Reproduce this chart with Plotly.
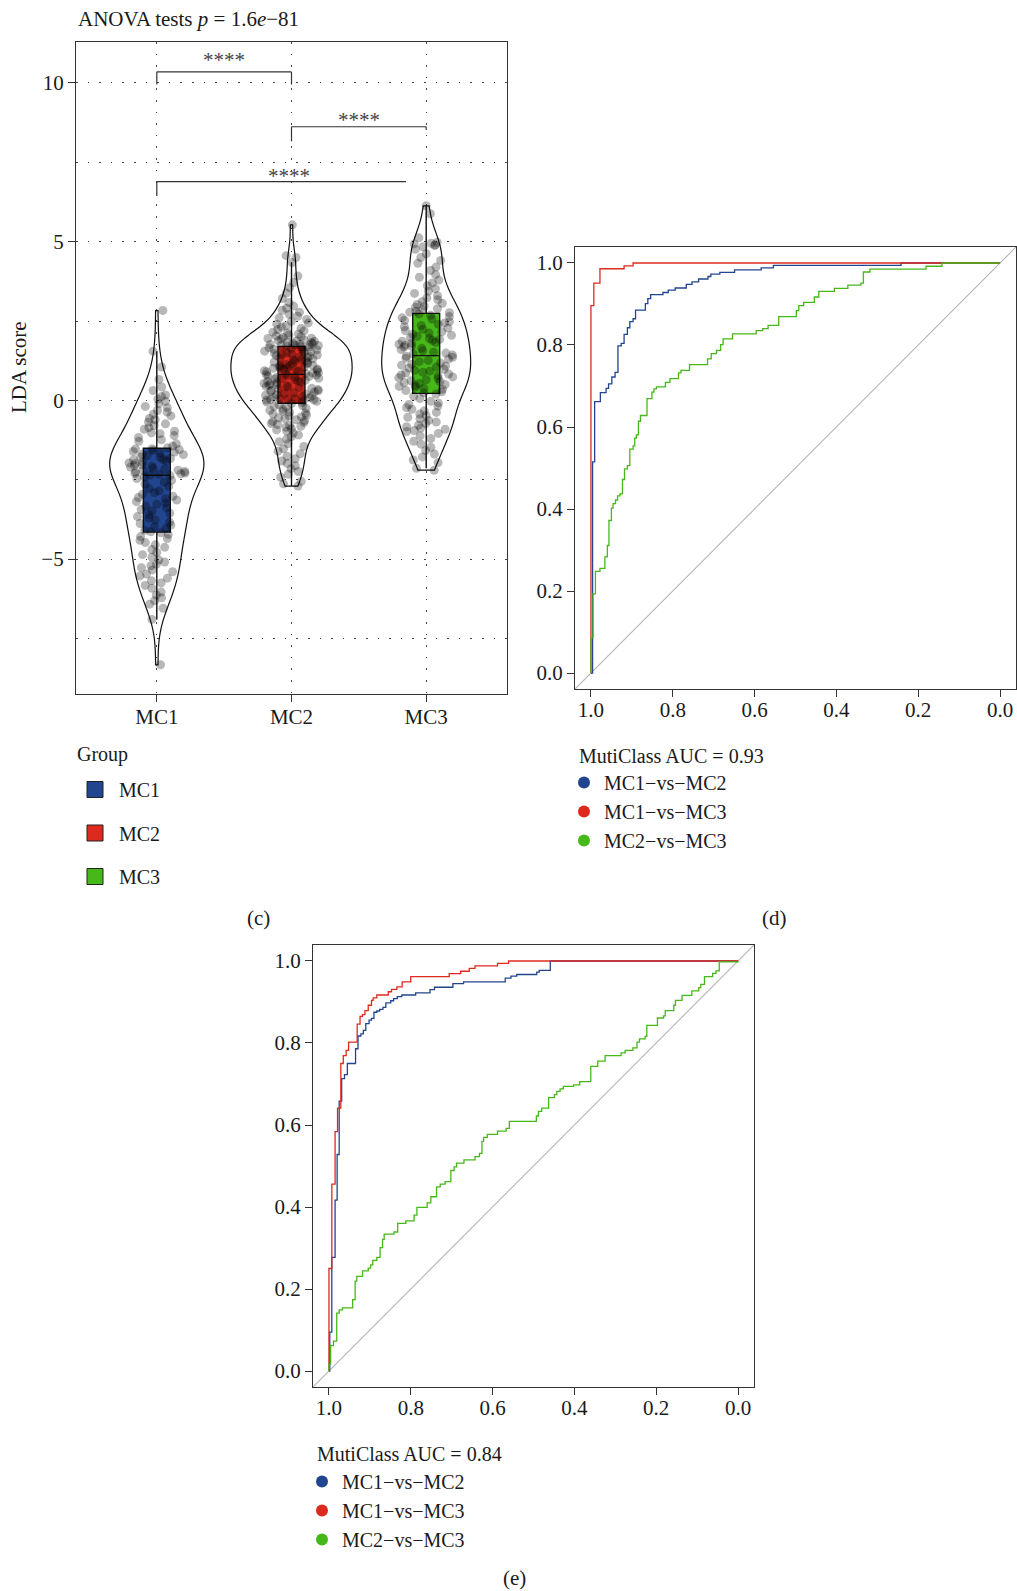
import plotly.graph_objects as go

W, H = 1017, 1591
FONT = "Liberation Serif"
FS = 21
LFS = 20

# ---------------- data: panel (c) ----------------
groups = ["MC1", "MC2", "MC3"]
group_colors = ["#22458F", "#DE2A1E", "#46B819"]

mc1_scores = [
    2.83, 1.55, 1.05, 0.66, 0.42, 0.31, 0.17, 0.12, 0.04,
    -0.03, -0.11, -0.19, -0.23, -0.32, -0.37, -0.44, -0.49, -0.57, -0.61, -0.68, -0.74, -0.79, -0.86, -0.91, -0.97,
    -1.02, -1.05, -1.11, -1.17, -1.24, -1.29, -1.37, -1.44, -1.49,
    -1.52, -1.53, -1.55, -1.58, -1.61, -1.63, -1.66, -1.70, -1.71, -1.74, -1.78, -1.79, -1.83, -1.86, -1.88, -1.91, -1.94, -1.97, -1.99,
    -2.03, -2.05, -2.08, -2.10, -2.14, -2.17, -2.20, -2.21, -2.24, -2.26, -2.29, -2.30, -2.31, -2.33, -2.35,
    -2.37, -2.41, -2.46, -2.52, -2.58, -2.64, -2.71, -2.78, -2.85, -2.91, -2.96,
    -3.02, -3.06, -3.10, -3.14, -3.19, -3.23, -3.27, -3.33, -3.38, -3.44, -3.49, -3.55, -3.60, -3.66, -3.71, -3.77, -3.83, -3.88, -3.93, -3.98,
    -4.04, -4.09, -4.14, -4.17, -4.22, -4.29, -4.35, -4.41, -4.48, -4.55, -4.63, -4.70, -4.79, -4.86, -4.94,
    -5.03, -5.09, -5.16, -5.21, -5.27, -5.34, -5.40, -5.47, -5.53, -5.60, -5.68, -5.75, -5.83, -5.92,
    -6.04, -6.13, -6.22, -6.31, -6.42, -6.55, -6.90,
    -8.33,
]
mc2_scores = [
    5.53, 4.56, 4.50, 4.34,
    3.92, 3.71, 3.55, 3.38, 3.21, 3.08,
    2.97, 2.90, 2.84, 2.78, 2.71, 2.65, 2.60, 2.55, 2.49, 2.44, 2.40, 2.35, 2.31, 2.27, 2.23, 2.19, 2.15, 2.12, 2.09, 2.06, 2.03, 2.01,
    1.98, 1.96, 1.95, 1.93, 1.91, 1.89, 1.87, 1.86, 1.84, 1.82, 1.80, 1.79, 1.77, 1.76, 1.75, 1.74, 1.73, 1.72, 1.71,
    1.69, 1.68, 1.66, 1.64, 1.63, 1.61, 1.59, 1.57, 1.55, 1.54, 1.52, 1.50, 1.48, 1.46, 1.45, 1.43, 1.41, 1.39, 1.37, 1.35,
    1.33, 1.31, 1.29, 1.27, 1.25, 1.23, 1.21, 1.19, 1.17, 1.15, 1.13, 1.11, 1.09, 1.08, 1.06, 1.05, 1.03, 1.02, 1.01,
    0.99, 0.98, 0.96, 0.95, 0.93, 0.91, 0.90, 0.88, 0.86, 0.85, 0.83,
    0.81, 0.80, 0.78, 0.77, 0.75, 0.74, 0.72, 0.70, 0.69, 0.67, 0.65, 0.63, 0.62, 0.60, 0.58, 0.56, 0.54, 0.52, 0.50, 0.48,
    0.46, 0.44, 0.42, 0.40, 0.38, 0.36, 0.34, 0.32, 0.30, 0.28, 0.26, 0.24, 0.22, 0.20, 0.18, 0.16, 0.14, 0.12, 0.10, 0.08,
    0.07, 0.05, 0.04, 0.03, 0.02, 0.01,
    -0.01, -0.03, -0.05, -0.07, -0.10, -0.13, -0.16, -0.19, -0.22, -0.25, -0.28, -0.31, -0.34, -0.37, -0.40, -0.43, -0.46,
    -0.49, -0.52, -0.55, -0.58, -0.61, -0.64, -0.67, -0.70, -0.73, -0.76, -0.79, -0.82, -0.85, -0.89, -0.93, -0.97,
    -1.03, -1.09, -1.15, -1.22, -1.30, -1.37, -1.45, -1.52, -1.60, -1.68, -1.76, -1.84, -1.91, -1.98,
    -2.06, -2.15, -2.24, -2.33, -2.42, -2.55, -2.63, -2.70,
]
mc3_scores = [
    6.13, 5.88, 5.12,
    4.98, 4.95, 4.93, 4.90, 4.88, 4.84, 4.76, 4.62, 4.50, 4.41, 4.32, 4.20, 4.09,
    3.96, 3.88, 3.79, 3.70, 3.61, 3.52, 3.44, 3.37, 3.30, 3.23, 3.17, 3.11, 3.06, 3.02,
    2.97, 2.93, 2.89, 2.85, 2.81, 2.78, 2.76, 2.72, 2.68, 2.64, 2.60, 2.56, 2.52, 2.48, 2.44, 2.40, 2.36, 2.32, 2.28,
    2.24, 2.20, 2.16, 2.12, 2.08, 2.05, 2.02,
    1.98, 1.95, 1.92, 1.89, 1.86, 1.83, 1.80, 1.77, 1.74, 1.71, 1.68, 1.64, 1.60, 1.56, 1.52, 1.49, 1.46, 1.43,
    1.39, 1.36, 1.33, 1.30, 1.26, 1.22, 1.18, 1.14, 1.11, 1.08, 1.05, 1.02,
    0.98, 0.95, 0.92, 0.89, 0.86, 0.83, 0.80, 0.77, 0.74, 0.71, 0.68, 0.65, 0.62, 0.59, 0.56, 0.53, 0.50, 0.47, 0.44, 0.41,
    0.38, 0.35, 0.31, 0.27, 0.24, 0.20, 0.13, 0.06,
    -0.03, -0.08, -0.13, -0.18, -0.23, -0.28, -0.33, -0.38, -0.43, -0.48, -0.53, -0.58, -0.63, -0.68, -0.73, -0.78, -0.83,
    -0.87, -0.91, -0.95, -0.98,
    -1.04, -1.12, -1.20, -1.29, -1.38, -1.48, -1.58, -1.69, -1.78, -1.88, -1.96,
    -2.14, -2.20,
]
group_scores = [mc1_scores, mc2_scores, mc3_scores]

# box statistics
box_q1 = [-4.15, -0.09, 0.22]
box_median = [-2.36, 0.82, 1.41]
box_q3 = [-1.51, 1.70, 2.74]
box_lower = [-6.90, -2.70, -2.14]
box_upper = [1.55, 4.34, 6.13]

# significance brackets
comparisons = [("MC1", "MC2"), ("MC2", "MC3"), ("MC1", "MC3")]
bracket_y = [10.35, 8.62, 6.89]
bracket_x_end = [1.0, 2.0, 1.85]
bracket_tip_left = [0.40, 0.46, 0.45]
bracket_tip_right = [0.40, 0.10, 0.0]
bracket_label_x = [0.5, 1.5, 0.98]
bracket_label_y = [10.72, 8.84, 7.08]
bracket_labels = ["****", "****", "****"]

# ---------------- data: ROC panels (specificity, sensitivity) ----------------
roc_names = ["MC1\u2212vs\u2212MC2", "MC1\u2212vs\u2212MC3", "MC2\u2212vs\u2212MC3"]

d_spec_12 = [1.0, 0.996, 0.991, 0.977, 0.963, 0.957, 0.949, 0.941, 0.934, 0.926, 0.919, 0.911, 0.905, 0.897,
             0.891, 0.867, 0.861, 0.854, 0.824, 0.811, 0.794, 0.767, 0.753, 0.737, 0.714, 0.707, 0.685,
             0.649, 0.584, 0.554, 0.242, 0.0]
d_sens_12 = [0.0, 0.515, 0.662, 0.684, 0.694, 0.705, 0.722, 0.733, 0.798, 0.804, 0.826, 0.842, 0.857, 0.864,
             0.885, 0.901, 0.913, 0.923, 0.928, 0.934, 0.939, 0.948, 0.954, 0.961, 0.967, 0.973, 0.977,
             0.983, 0.988, 0.994, 1.0, 1.0]
d_spec_13 = [1.0, 1.0, 0.993, 0.978, 0.919, 0.897, 0.0]
d_sens_13 = [0.0, 0.896, 0.951, 0.986, 0.993, 1.0, 1.0]
d_spec_23 = [1.0, 1.0, 0.995, 0.989, 0.978, 0.966, 0.960, 0.956, 0.950, 0.946, 0.940, 0.935, 0.929, 0.923,
             0.918, 0.911, 0.905, 0.897, 0.893, 0.889, 0.884, 0.879, 0.863, 0.851, 0.846, 0.840, 0.818,
             0.807, 0.786, 0.780, 0.759, 0.715, 0.706, 0.693, 0.683, 0.677, 0.654, 0.596, 0.580, 0.567,
             0.541, 0.498, 0.492, 0.480, 0.454, 0.443, 0.405, 0.372, 0.340, 0.334, 0.318, 0.181, 0.142, 0.0]
d_sens_23 = [0.0, 0.085, 0.193, 0.248, 0.255, 0.283, 0.311, 0.372, 0.402, 0.413, 0.422, 0.432, 0.437, 0.472,
             0.498, 0.506, 0.546, 0.554, 0.573, 0.581, 0.614, 0.628, 0.669, 0.685, 0.693, 0.698, 0.709,
             0.718, 0.732, 0.738, 0.752, 0.766, 0.779, 0.787, 0.801, 0.815, 0.827, 0.835, 0.840, 0.848,
             0.869, 0.884, 0.896, 0.904, 0.917, 0.931, 0.938, 0.946, 0.951, 0.978, 0.985, 0.992, 1.0, 1.0]

e_spec_12 = [1.0, 0.998, 0.993, 0.985, 0.980, 0.975, 0.969, 0.962, 0.955, 0.935, 0.929, 0.922, 0.916, 0.910,
             0.902, 0.896, 0.890, 0.883, 0.876, 0.868, 0.861, 0.849, 0.842, 0.833, 0.822, 0.788, 0.753,
             0.742, 0.697, 0.671, 0.569, 0.555, 0.541, 0.492, 0.486, 0.459, 0.0]
e_sens_12 = [0.0, 0.095, 0.277, 0.417, 0.528, 0.658, 0.713, 0.723, 0.750, 0.786, 0.817, 0.822, 0.831, 0.847,
             0.856, 0.860, 0.875, 0.878, 0.882, 0.887, 0.898, 0.903, 0.908, 0.913, 0.917, 0.922, 0.930,
             0.936, 0.945, 0.949, 0.958, 0.963, 0.967, 0.973, 0.977, 1.0, 1.0]
e_spec_13 = [1.0, 1.0, 0.993, 0.985, 0.979, 0.971, 0.965, 0.958, 0.952, 0.931, 0.924, 0.918, 0.912, 0.904,
             0.896, 0.892, 0.883, 0.855, 0.847, 0.834, 0.821, 0.800, 0.706, 0.678, 0.657, 0.643, 0.588,
             0.561, 0.0]
e_sens_13 = [0.0, 0.250, 0.456, 0.584, 0.641, 0.750, 0.769, 0.782, 0.802, 0.846, 0.865, 0.869, 0.879, 0.892,
             0.904, 0.910, 0.917, 0.925, 0.931, 0.937, 0.949, 0.962, 0.969, 0.975, 0.982, 0.988, 0.994,
             1.0, 1.0]
e_spec_23 = [1.0, 1.0, 0.996, 0.989, 0.981, 0.975, 0.967, 0.942, 0.936, 0.932, 0.918, 0.904, 0.898, 0.893,
             0.883, 0.875, 0.869, 0.865, 0.841, 0.832, 0.812, 0.792, 0.785, 0.760, 0.751, 0.737, 0.728,
             0.716, 0.702, 0.694, 0.688, 0.670, 0.643, 0.632, 0.626, 0.622, 0.613, 0.588, 0.567, 0.559,
             0.493, 0.488, 0.480, 0.463, 0.449, 0.443, 0.435, 0.427, 0.402, 0.387, 0.360, 0.343, 0.325,
             0.286, 0.276, 0.257, 0.247, 0.241, 0.227, 0.223, 0.197, 0.182, 0.178, 0.157, 0.153, 0.137,
             0.113, 0.096, 0.091, 0.082, 0.062, 0.054, 0.046, 0.0]
e_sens_23 = [0.0, 0.017, 0.062, 0.073, 0.141, 0.149, 0.154, 0.174, 0.219, 0.231, 0.244, 0.251, 0.259, 0.270,
             0.277, 0.301, 0.321, 0.334, 0.339, 0.360, 0.366, 0.380, 0.399, 0.410, 0.425, 0.449, 0.456,
             0.462, 0.489, 0.498, 0.507, 0.515, 0.523, 0.531, 0.560, 0.570, 0.577, 0.585, 0.592, 0.609,
             0.622, 0.633, 0.641, 0.667, 0.674, 0.682, 0.688, 0.694, 0.698, 0.706, 0.743, 0.756, 0.769,
             0.776, 0.782, 0.788, 0.802, 0.810, 0.816, 0.843, 0.861, 0.866, 0.879, 0.892, 0.904, 0.916,
             0.927, 0.935, 0.943, 0.962, 0.970, 0.976, 0.998, 1.0]

auc_d = "0.93"
auc_e = "0.84"
roc_d = [(d_spec_12, d_sens_12), (d_spec_13, d_sens_13), (d_spec_23, d_sens_23)]
roc_e = [(e_spec_12, e_sens_12), (e_spec_13, e_sens_13), (e_spec_23, e_sens_23)]
roc_ticks = [0.0, 0.2, 0.4, 0.6, 0.8, 1.0]


# ---------------- helpers ----------------
def px_x(p):
    return p / W


def px_y(p):
    return 1 - p / H


fig = go.Figure()

# violins
violin_widths = [0.70, 0.90, 0.66]
violin_bw = [0.66, 0.40, 0.56]
for g, vals, vw, bw in zip(groups, group_scores, violin_widths, violin_bw):
    fig.add_trace(go.Violin(
        x=[g] * len(vals), y=vals, name=g, width=vw, bandwidth=bw, spanmode="hard",
        points=False, fillcolor="rgba(255,255,255,0)", line=dict(color="#111", width=1.2),
        showlegend=False, hoverinfo="skip", xaxis="x", yaxis="y"))

# boxes
for i, g in enumerate(groups):
    fig.add_trace(go.Box(
        x=[g], q1=[box_q1[i]], median=[box_median[i]], q3=[box_q3[i]],
        lowerfence=[box_lower[i]], upperfence=[box_upper[i]], width=0.2, whiskerwidth=0,
        fillcolor=group_colors[i], line=dict(color="#111", width=1.4), boxpoints=False,
        showlegend=False, name=g, xaxis="x", yaxis="y"))

# jittered points (drawn on top)
for g, vals in zip(groups, group_scores):
    fig.add_trace(go.Box(
        x=[g] * len(vals), y=vals, name=g, width=0.42, boxpoints="all", jitter=1.0, pointpos=0,
        marker=dict(color="rgba(0,0,0,0.28)", size=9, line=dict(width=0)),
        fillcolor="rgba(0,0,0,0)", line=dict(color="rgba(0,0,0,0)", width=0), whiskerwidth=0,
        showlegend=False, hoveron="points", xaxis="x", yaxis="y"))

# legend entries for groups
for g, c in zip(groups, group_colors):
    fig.add_trace(go.Scatter(
        x=[None], y=[None], mode="markers", name=g, legend="legend", legendgroup=g,
        marker=dict(symbol="square", size=16, color=c, line=dict(color="#222", width=1)),
        xaxis="x", yaxis="y"))

# ROC curves
roc_colors = group_colors
for (xa, ya, lg, curves) in [("x2", "y2", "legend2", roc_d), ("x3", "y3", "legend3", roc_e)]:
    for name, col, (sp, se) in zip(roc_names, roc_colors, curves):
        fig.add_trace(go.Scatter(
            x=sp, y=se, mode="lines", line=dict(color=col, width=1.3, shape="hv"),
            showlegend=False, name=name, xaxis=xa, yaxis=ya))
    for name, col in zip(roc_names, roc_colors):
        fig.add_trace(go.Scatter(
            x=[None], y=[None], mode="markers", name=name, legend=lg,
            marker=dict(symbol="circle", size=12, color=col), xaxis=xa, yaxis=ya))

# ---------------- layout ----------------
tick_font = dict(family=FONT, size=FS, color="#1a1a1a")
leg_font = dict(family=FONT, size=LFS, color="#1a1a1a")
grid_kw = dict(gridcolor="#444", gridwidth=1.1, griddash="1.6px,10px")
axis_line = dict(showline=True, mirror=True, linecolor="#333", linewidth=1.3,
                 ticks="outside", ticklen=7, tickwidth=1.3, tickcolor="#333", zeroline=False)

fig.update_layout(
    width=W, height=H, margin=dict(l=0, r=0, t=0, b=0),
    paper_bgcolor="white", plot_bgcolor="white",
    font=dict(family=FONT, size=FS, color="#1a1a1a"),
    violinmode="overlay", boxmode="overlay",
    xaxis=dict(domain=[px_x(76), px_x(507)], anchor="y", type="category",
               categoryorder="array", categoryarray=groups, range=[-0.6, 2.6],
               showgrid=True, tickfont=tick_font, ticklabelstandoff=-3, **grid_kw, **axis_line),
    yaxis=dict(domain=[px_y(694), px_y(42)], anchor="x", range=[-9.25, 11.29],
               tickvals=[-5, 0, 5, 10], showgrid=True, tickfont=tick_font,
               minor=dict(tickvals=[-7.5, -2.5, 2.5, 7.5], showgrid=True, ticks="", **grid_kw),
               **grid_kw, **axis_line),
    xaxis2=dict(domain=[px_x(575), px_x(1016)], anchor="y2", range=[1.039, -0.039],
                tickvals=roc_ticks, tickformat=".1f", showgrid=False, tickfont=tick_font,
                ticklabelstandoff=-5, **axis_line),
    yaxis2=dict(domain=[px_y(689), px_y(247)], anchor="x2", range=[-0.039, 1.039],
                tickvals=roc_ticks, tickformat=".1f", showgrid=False, tickfont=tick_font, **axis_line),
    xaxis3=dict(domain=[px_x(313), px_x(754)], anchor="y3", range=[1.039, -0.039],
                tickvals=roc_ticks, tickformat=".1f", showgrid=False, tickfont=tick_font,
                ticklabelstandoff=-5, **axis_line),
    yaxis3=dict(domain=[px_y(1387), px_y(945)], anchor="x3", range=[-0.039, 1.039],
                tickvals=roc_ticks, tickformat=".1f", showgrid=False, tickfont=tick_font, **axis_line),
    legend=dict(x=px_x(71), y=px_y(770), xanchor="left", yanchor="top", itemwidth=38,
                font=leg_font, tracegroupgap=14.5, bgcolor="rgba(0,0,0,0)"),
    legend2=dict(x=px_x(564), y=px_y(763), xanchor="left", yanchor="top",
                 font=leg_font, tracegroupgap=0, bgcolor="rgba(0,0,0,0)"),
    legend3=dict(x=px_x(302), y=px_y(1462), xanchor="left", yanchor="top",
                 font=leg_font, tracegroupgap=0, bgcolor="rgba(0,0,0,0)"),
)

# diagonal reference lines
for xr, yr in [("x2", "y2"), ("x3", "y3")]:
    fig.add_shape(type="line", xref=xr, yref=yr, x0=1.039, y0=-0.039, x1=-0.039, y1=1.039,
                  line=dict(color="#b5b5b5", width=1.1), layer="below")

# significance brackets
for (a, b), yb, xe, tl, tr, lx, ly, lab in zip(comparisons, bracket_y, bracket_x_end,
                                                 bracket_tip_left, bracket_tip_right,
                                                 bracket_label_x, bracket_label_y, bracket_labels):
    xs = groups.index(a)
    lc = dict(color="#333", width=1.2)
    fig.add_shape(type="line", xref="x", yref="y", x0=xs, x1=xe, y0=yb, y1=yb, line=lc)
    fig.add_shape(type="line", xref="x", yref="y", x0=xs, x1=xs, y0=yb - tl, y1=yb, line=lc)
    if tr > 0:
        fig.add_shape(type="line", xref="x", yref="y", x0=xe, x1=xe, y0=yb - tr, y1=yb, line=lc)
    fig.add_annotation(x=lx, y=ly, xref="x", yref="y", text=lab, showarrow=False,
                       xanchor="center", yanchor="middle",
                       font=dict(family=FONT, size=FS, color="#444"))

# titles, legend titles and captions
fig.add_annotation(x=px_x(76), y=px_y(19), xref="paper", yref="paper", xanchor="left", yanchor="middle",
                   text="ANOVA tests <i>p</i> = 1.6<i>e</i>\u221281", showarrow=False,
                   font=dict(family=FONT, size=FS, color="#1a1a1a"))
fig.add_annotation(x=px_x(19), y=px_y(367), xref="paper", yref="paper", textangle=-90,
                   xanchor="center", yanchor="middle",
                   text="LDA score", showarrow=False, font=dict(family=FONT, size=FS, color="#1a1a1a"))
legend_titles = [("Group", 75, 754), (f"MutiClass AUC = {auc_d}", 577, 756),
                 (f"MutiClass AUC = {auc_e}", 315, 1454)]
for txt, lx, ly in legend_titles:
    fig.add_annotation(x=px_x(lx), y=px_y(ly), xref="paper", yref="paper", xanchor="left",
                       yanchor="middle", text=txt, showarrow=False, font=leg_font)
for cap, cx, cy in [("(c)", 258, 918), ("(d)", 774, 918), ("(e)", 514, 1578)]:
    fig.add_annotation(x=px_x(cx), y=px_y(cy), xref="paper", yref="paper", text=cap, showarrow=False,
                       xanchor="center", yanchor="middle",
                       font=dict(family=FONT, size=FS, color="#1a1a1a"))

fig.write_html("out.html")
